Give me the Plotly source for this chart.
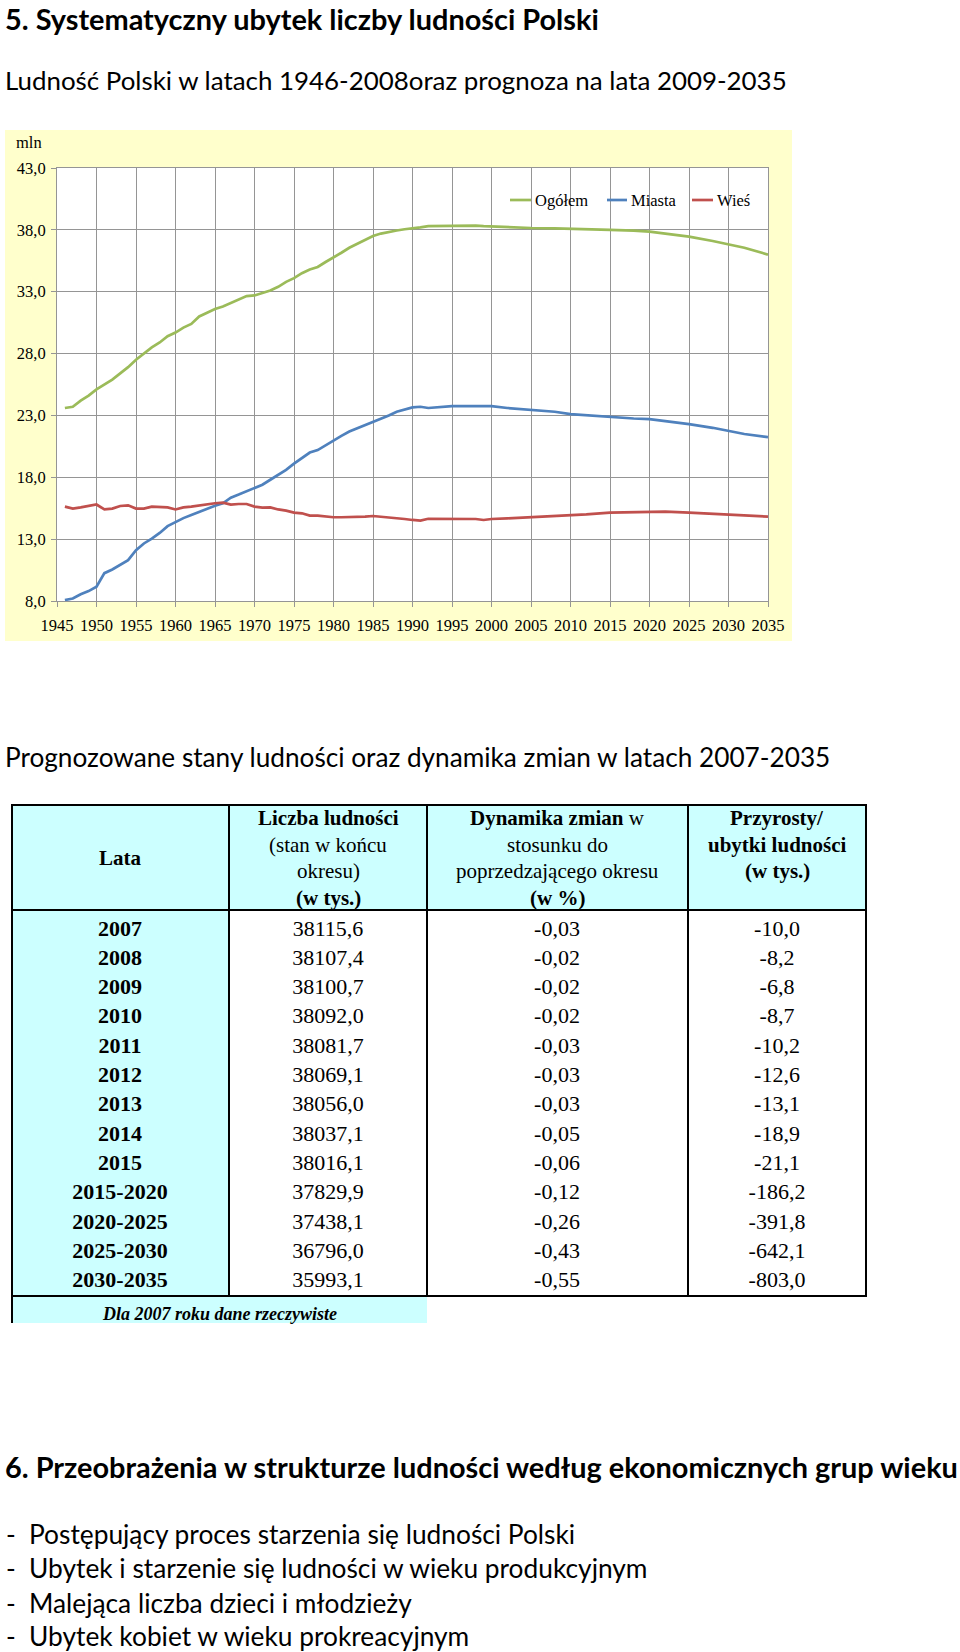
import plotly.graph_objects as go

W, H = 960, 1652

# ---------------- chart data (mln) ----------------
years = list(range(1946, 1993)) + [1995, 1998, 1999, 2000, 2002, 2005, 2008, 2010, 2012,
                                   2015, 2018, 2020, 2022, 2025, 2028, 2030, 2032, 2035]
ogolem = [23.6, 23.7, 24.2, 24.6, 25.1, 25.5, 25.9, 26.4, 26.9, 27.5,
          28.0, 28.5, 28.9, 29.4, 29.7, 30.1, 30.4, 31.0, 31.3, 31.6,
          31.8, 32.1, 32.4, 32.65, 32.7, 32.9, 33.1, 33.4, 33.8, 34.1,
          34.5, 34.8, 35.0, 35.4, 35.75, 36.15, 36.55, 36.85, 37.2, 37.5,
          37.7, 37.85, 37.95, 38.05, 38.1, 38.2, 38.3,
          38.35, 38.35, 38.3, 38.27, 38.2, 38.15, 38.12, 38.1, 38.07,
          38.0, 37.93, 37.85, 37.7, 37.45, 37.1, 36.85, 36.55, 36.0]
miasta = [8.08, 8.2, 8.55, 8.8, 9.15, 10.25, 10.55, 10.9, 11.3, 12.1,
          12.65, 13.05, 13.5, 14.05, 14.4, 14.7, 14.95, 15.2, 15.5, 15.7,
          15.9, 16.35, 16.6, 16.85, 17.1, 17.4, 17.8, 18.2, 18.6, 19.1,
          19.55, 20.0, 20.2, 20.6, 20.95, 21.35, 21.7, 21.95, 22.2, 22.5,
          22.75, 23.0, 23.3, 23.45, 23.65, 23.7, 23.6,
          23.75, 23.75, 23.75, 23.75, 23.6, 23.45, 23.3, 23.1, 23.0,
          22.9, 22.75, 22.7, 22.55, 22.3, 22.0, 21.75, 21.5, 21.25]
wies = [15.63, 15.47, 15.57, 15.7, 15.8, 15.4, 15.47, 15.68, 15.73, 15.47,
        15.47, 15.63, 15.57, 15.57, 15.4, 15.57, 15.63, 15.73, 15.84, 15.9,
        15.95, 15.79, 15.84, 15.84, 15.63, 15.55, 15.57, 15.4, 15.3, 15.14,
        15.09, 14.9, 14.9, 14.82, 14.77, 14.77, 14.77, 14.77, 14.82, 14.87,
        14.82, 14.77, 14.68, 14.63, 14.55, 14.5, 14.65,
        14.65, 14.63, 14.55, 14.63, 14.68, 14.77, 14.9, 14.93, 15.0,
        15.14, 15.2, 15.22, 15.22, 15.14, 15.05, 15.0, 14.93, 14.82]
series_names = ["Ogółem", "Miasta", "Wieś"]
series_colors = ["#9BBB59", "#4F81BD", "#C0504D"]

# ---------------- table data ----------------
lata = ["2007", "2008", "2009", "2010", "2011", "2012", "2013", "2014", "2015",
        "2015-2020", "2020-2025", "2025-2030", "2030-2035"]
liczba = [38115.6, 38107.4, 38100.7, 38092.0, 38081.7, 38069.1, 38056.0, 38037.1,
          38016.1, 37829.9, 37438.1, 36796.0, 35993.1]
dynamika = [-0.03, -0.02, -0.02, -0.02, -0.03, -0.03, -0.03, -0.05, -0.06,
            -0.12, -0.26, -0.43, -0.55]
przyrosty = [-10.0, -8.2, -6.8, -8.7, -10.2, -12.6, -13.1, -18.9, -21.1,
             -186.2, -391.8, -642.1, -803.0]


def fmt(v, d):
    return f"{v:.{d}f}".replace(".", ",")


def px(x):
    return x / W


def py(y):
    return 1 - y / H


CAL = "Lato"
TNR = "Liberation Serif"

fig = go.Figure()

for name, vals, col in zip(series_names, [ogolem, miasta, wies], series_colors):
    fig.add_trace(go.Scatter(x=years, y=vals, mode="lines", name=name,
                             line=dict(color=col, width=2.7), hoverinfo="skip",
                             showlegend=False, xaxis="x", yaxis="y"))

# table texts through a dedicated (hidden) axis pair; rows are categories
col_cx = [120, 328, 557, 777]
col_texts = [[f"<b>{t}</b>" for t in lata],
             [fmt(v, 1) for v in liczba],
             [fmt(v, 2) for v in dynamika],
             [fmt(v, 1) for v in przyrosty]]
for cx, texts in zip(col_cx, col_texts):
    fig.add_trace(go.Scatter(x=[cx] * len(lata), y=lata, mode="text", text=texts,
                             textposition="middle center",
                             textfont=dict(family=TNR, size=22, color="black"),
                             hoverinfo="skip", showlegend=False,
                             xaxis="x3", yaxis="y3"))

grid = "#959595"
shapes = []
# chart yellow background & white plot area
shapes.append(dict(type="rect", xref="paper", yref="paper", x0=px(5), x1=px(792),
                   y0=py(641), y1=py(130), fillcolor="#FFFFCC", line=dict(width=0), layer="below"))
shapes.append(dict(type="rect", xref="paper", yref="paper", x0=px(57), x1=px(768),
                   y0=py(601), y1=py(168), fillcolor="white", line=dict(width=0), layer="below"))
# table backgrounds
cyan = "#CCFFFF"
shapes.append(dict(type="rect", xref="paper", yref="paper", x0=px(12), x1=px(866),
                   y0=py(910), y1=py(805), fillcolor=cyan, line=dict(width=0), layer="below"))
shapes.append(dict(type="rect", xref="paper", yref="paper", x0=px(12), x1=px(229),
                   y0=py(1296), y1=py(910), fillcolor=cyan, line=dict(width=0), layer="below"))
shapes.append(dict(type="rect", xref="paper", yref="paper", x0=px(12), x1=px(427),
                   y0=py(1323), y1=py(1296), fillcolor=cyan, line=dict(width=0), layer="below"))
# table borders
bl = dict(color="black", width=2)
shapes.append(dict(type="rect", xref="paper", yref="paper", x0=px(12), x1=px(866),
                   y0=py(1296), y1=py(805), line=bl, layer="below"))
for xv in [229, 427, 688]:
    shapes.append(dict(type="line", xref="paper", yref="paper", x0=px(xv), x1=px(xv),
                       y0=py(1296), y1=py(805), line=bl, layer="below"))
shapes.append(dict(type="line", xref="paper", yref="paper", x0=px(12), x1=px(866),
                   y0=py(910), y1=py(910), line=bl, layer="below"))
shapes.append(dict(type="line", xref="paper", yref="paper", x0=px(12), x1=px(12),
                   y0=py(1323), y1=py(1296), line=bl, layer="below"))

annotations = []


def txt(x, y, s, size, family, anchor="center", color="black"):
    annotations.append(dict(x=px(x), y=py(y), xref="paper", yref="paper", text=s,
                            showarrow=False, xanchor=anchor, yanchor="middle",
                            font=dict(family=family, size=size, color=color)))


# page texts
txt(3, 18, "<b>5. Systematyczny ubytek liczby ludności Polski</b>", 28.9, CAL, "left")
txt(3, 80, "Ludność Polski w latach 1946-2008oraz prognoza na lata 2009-2035", 25.9, CAL, "left")
txt(3, 757, "Prognozowane stany ludności oraz dynamika zmian w latach 2007-2035", 26.2, CAL, "left")
txt(3, 1466, "<b>6. Przeobrażenia w strukturze ludności według ekonomicznych grup wieku</b>", 28.9, CAL, "left")
bullets = ["Postępujący proces starzenia się ludności Polski",
           "Ubytek i starzenie się ludności w wieku produkcyjnym",
           "Malejąca liczba dzieci i młodzieży",
           "Ubytek kobiet w wieku prokreacyjnym"]
for yb, b in zip([1534, 1568, 1603, 1636], bullets):
    txt(4, yb, "-", 26.3, CAL, "left")
    txt(27, yb, b, 26.3, CAL, "left")

# chart texts
txt(14, 143, "mln", 16.5, TNR, "left")
leg_x = [(510, 531), (607, 627), (692, 713)]
for (x0, x1), name, col in zip(leg_x, series_names, series_colors):
    shapes.append(dict(type="line", xref="paper", yref="paper", x0=px(x0), x1=px(x1),
                       y0=py(200), y1=py(200), line=dict(color=col, width=2.7)))
    txt(x1 + 2, 200, name, 16.5, TNR, "left")

# table header
hdr = [
    (120, [(858, "<b>Lata</b>")]),
    (328, [(818, "<b>Liczba ludności</b>"), (845, "(stan w końcu"), (871, "okresu)"), (898, "<b>(w tys.)</b>")]),
    (557, [(818, "<b>Dynamika zmian</b> w"), (845, "stosunku do"), (871, "poprzedzającego okresu"), (898, "<b>(w %)</b>")]),
    (777, [(818, "<b>Przyrosty/</b>"), (845, "<b>ubytki ludności</b>"), (871, "<b>(w tys.)</b>")]),
]
for cx, lines in hdr:
    for yl, s in lines:
        txt(cx, yl, s, 21, TNR)
txt(219, 1314, "<b><i>Dla 2007 roku dane rzeczywiste</i></b>", 18, TNR)

tickfont = dict(family=TNR, size=16.5, color="black")
fig.update_layout(
    width=W, height=H, autosize=False,
    margin=dict(l=0, r=0, t=0, b=0, pad=0, autoexpand=False),
    paper_bgcolor="white", plot_bgcolor="rgba(0,0,0,0)",
    separators=", ",
    showlegend=False,
    shapes=shapes, annotations=annotations,
    xaxis=dict(domain=[px(57), px(768)], range=[1945, 2035], tick0=1945, dtick=5,
               showgrid=True, gridcolor=grid, gridwidth=1, zeroline=False,
               showline=True, linecolor=grid, linewidth=1, mirror=True,
               ticks="outside", ticklen=5, tickcolor=grid, tickfont=tickfont,
               ticklabelstandoff=4,
               anchor="y", fixedrange=True, automargin=False),
    yaxis=dict(domain=[py(601), py(168)], range=[8, 43], tick0=8, dtick=5,
               tickformat=".1f", showgrid=True, gridcolor=grid, gridwidth=1,
               zeroline=False, showline=True, linecolor=grid, linewidth=1, mirror=True,
               ticks="outside", ticklen=5, tickcolor=grid, tickfont=tickfont,
               ticklabelstandoff=2, anchor="x", fixedrange=True, automargin=False),
    xaxis3=dict(domain=[0, 1], range=[0, W], visible=False, anchor="y3",
                fixedrange=True, automargin=False),
    yaxis3=dict(domain=[py(1296), py(910)], type="category", categoryarray=lata,
                categoryorder="array", range=[12.49, -0.683], visible=False,
                anchor="x3", fixedrange=True, automargin=False),
)

fig.write_html("out.html", config={"displayModeBar": False, "staticPlot": True},
               post_script="document.body.style.margin='0';document.body.style.padding='0';")
